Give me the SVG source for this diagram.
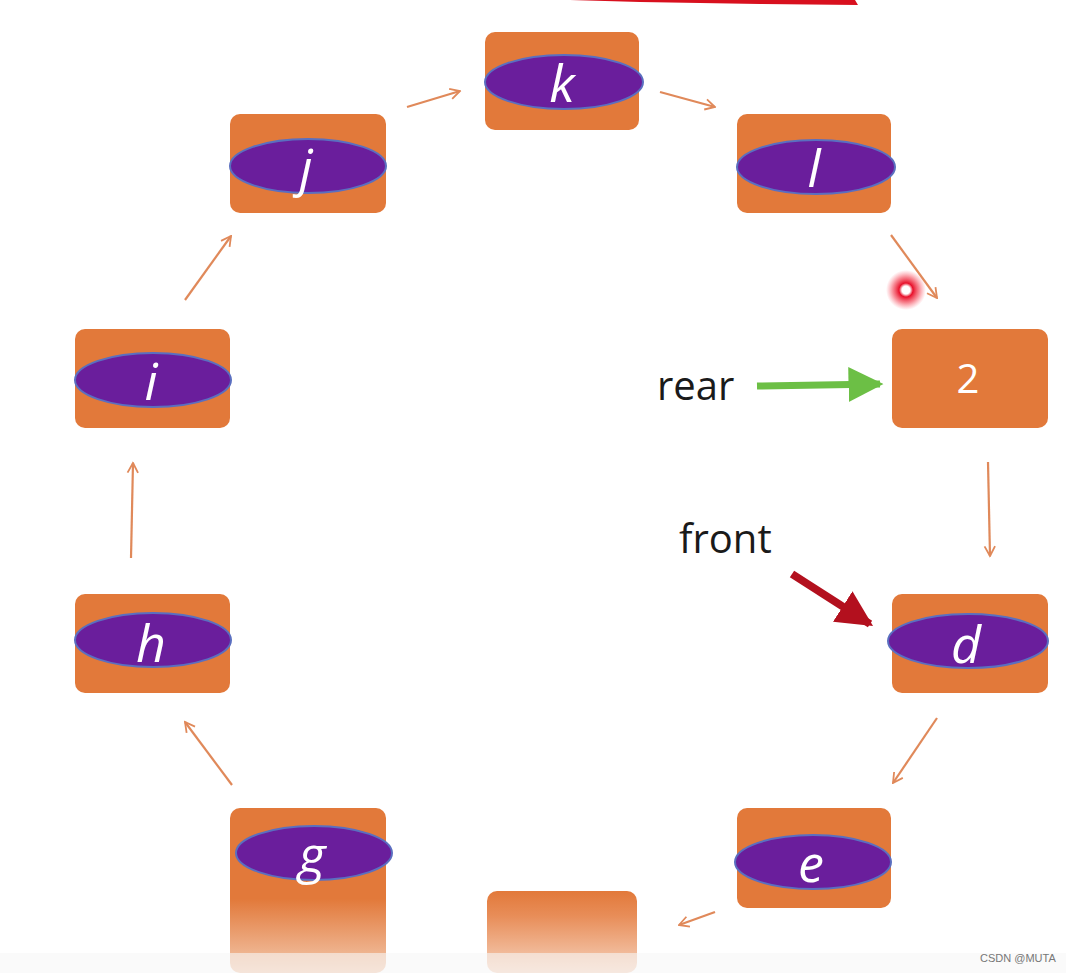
<svg xmlns="http://www.w3.org/2000/svg" width="1066" height="973" viewBox="0 0 1066 973">
<style>
.box{fill:#e2793a}
.ov{fill:#6a1e9c;stroke:#5a6fc0;stroke-width:2}
.lt{fill:#fff;font-family:"Open Sans","Liberation Sans",sans-serif;font-style:italic;font-size:52px;text-anchor:middle}
.cn{stroke:#e0895a;stroke-width:2.2;fill:none;marker-end:url(#ah)}
.lbl{fill:#1a1a1a;font-family:"Open Sans","Liberation Sans",sans-serif;font-size:40px}
</style>
<defs>
<marker id="ah" viewBox="0 0 20 20" refX="18" refY="10" markerWidth="15" markerHeight="15" orient="auto" markerUnits="userSpaceOnUse">
<polyline points="5,3 18,10 5,17" fill="none" stroke="#e0895a" stroke-width="2.4"/>
</marker>
<marker id="gh" viewBox="0 0 10 10" refX="9" refY="5" markerWidth="5" markerHeight="5" orient="auto">
<path d="M0,0 L10,5 L0,10 Z" fill="#6cbf45"/>
</marker>
<marker id="rh" viewBox="0 0 10 10" refX="9" refY="5" markerWidth="4.5" markerHeight="4.5" orient="auto">
<path d="M0,0 L10,5 L0,10 Z" fill="#b3101e"/>
</marker>
<linearGradient id="fadeG" x1="0" y1="0" x2="0" y2="1">
<stop offset="0" stop-color="#e2793a"/>
<stop offset="0.55" stop-color="#e2793a"/>
<stop offset="1" stop-color="#f3c9ae"/>
</linearGradient>
<linearGradient id="fadeB" x1="0" y1="0" x2="0" y2="1">
<stop offset="0" stop-color="#e2793a"/>
<stop offset="0.3" stop-color="#e88d58"/>
<stop offset="1" stop-color="#f6d2bc"/>
</linearGradient>
<radialGradient id="dot">
<stop offset="0" stop-color="#fff"/>
<stop offset="0.2" stop-color="#fff"/>
<stop offset="0.35" stop-color="#e8102a"/>
<stop offset="0.65" stop-color="#f23a4c" stop-opacity="0.6"/>
<stop offset="1" stop-color="#ff6070" stop-opacity="0"/>
</radialGradient>
</defs>
<rect width="1066" height="973" fill="#fff"/>
<path d="M570,0 L855,0 L858,5 L760,4 L640,2 Z" fill="#d8101e"/>

<g id="connectors">
<line class="cn" x1="407" y1="107" x2="460" y2="91"/>
<line class="cn" x1="660" y1="92" x2="715" y2="107"/>
<line class="cn" x1="891" y1="235" x2="937" y2="298"/>
<line class="cn" x1="988" y1="462" x2="990" y2="556"/>
<line class="cn" x1="937" y1="718" x2="893" y2="783"/>
<line class="cn" x1="715" y1="912" x2="679" y2="925"/>
<line class="cn" x1="232" y1="785" x2="185" y2="722"/>
<line class="cn" x1="131" y1="558" x2="133" y2="463"/>
<line class="cn" x1="185" y1="300" x2="231" y2="236"/>
<line x1="757" y1="386" x2="880" y2="384" stroke="#6cbf45" stroke-width="7" marker-end="url(#gh)"/>
<line x1="792" y1="574" x2="870" y2="624" stroke="#b3101e" stroke-width="8" marker-end="url(#rh)"/>
</g>

<g id="node-k"><rect class="box" x="485" y="32" width="154" height="98" rx="10"/><ellipse class="ov" cx="564" cy="82" rx="79" ry="27"/><text class="lt" x="562" y="102">k</text></g>
<g id="node-j"><rect class="box" x="230" y="114" width="156" height="99" rx="10"/><ellipse class="ov" cx="308" cy="166" rx="78" ry="27"/><text class="lt" x="306" y="186">j</text></g>
<g id="node-l"><rect class="box" x="737" y="114" width="154" height="99" rx="10"/><ellipse class="ov" cx="816" cy="167" rx="79" ry="27"/><text class="lt" x="814" y="187">l</text></g>
<g id="node-i"><rect class="box" x="75" y="329" width="155" height="99" rx="10"/><ellipse class="ov" cx="153" cy="380" rx="78" ry="27"/><text class="lt" x="151" y="400">i</text></g>
<g id="node-2"><rect class="box" x="892" y="329" width="156" height="99" rx="10"/><text x="968" y="393" fill="#fff" font-family="'Open Sans','Liberation Sans',sans-serif" font-size="40" text-anchor="middle">2</text></g>
<g id="node-h"><rect class="box" x="75" y="594" width="155" height="99" rx="10"/><ellipse class="ov" cx="153" cy="640" rx="78" ry="27"/><text class="lt" x="151" y="662">h</text></g>
<g id="node-d"><rect class="box" x="892" y="594" width="156" height="99" rx="10"/><ellipse class="ov" cx="968" cy="641" rx="80" ry="27"/><text class="lt" x="966" y="663">d</text></g>
<g id="node-e"><rect class="box" x="737" y="808" width="154" height="100" rx="10"/><ellipse class="ov" cx="813" cy="862" rx="78" ry="27"/><text class="lt" x="811" y="882">e</text></g>
<g id="node-g"><rect x="230" y="808" width="156" height="165" rx="10" fill="url(#fadeG)"/><ellipse class="ov" cx="314" cy="853" rx="78" ry="27"/><text class="lt" x="312" y="873">g</text></g>
<g id="node-f"><rect x="487" y="891" width="150" height="82" rx="10" fill="url(#fadeB)"/></g>

<g id="labels">
<text class="lbl" x="657" y="400">rear</text>
<text class="lbl" x="679" y="553">front</text>
</g>
<circle cx="906" cy="290" r="20" fill="url(#dot)"/>
<rect x="0" y="953" width="1066" height="20" fill="#f7f7f7" opacity="0.6"/>
<text x="980" y="962" fill="#777" font-family="'Liberation Sans',sans-serif" font-size="11">CSDN @MUTA</text>
</svg>
